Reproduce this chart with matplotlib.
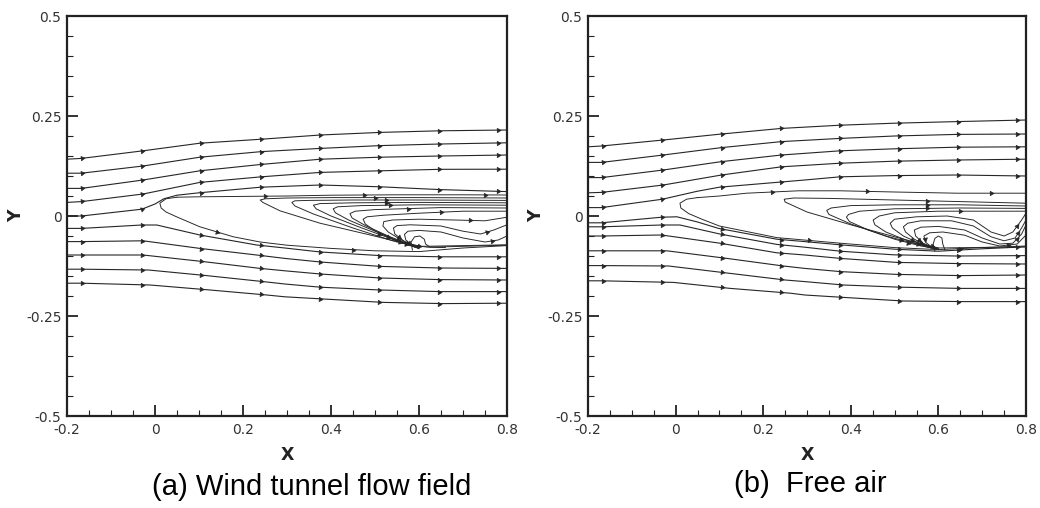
import math
import numpy as np
import matplotlib
matplotlib.use("Agg")
import matplotlib.pyplot as plt
from matplotlib.ticker import FixedLocator, MultipleLocator

plt.rcParams['font.family'] = ['Liberation Sans', 'DejaVu Sans']

# ---------------- axes / text ----------------
x_ticks = [-0.2, 0, 0.2, 0.4, 0.6, 0.8]
x_tick_labels = ['-0.2', '0', '0.2', '0.4', '0.6', '0.8']
y_ticks = [-0.5, -0.25, 0, 0.25, 0.5]
y_tick_labels = ['-0.5', '-0.25', '0', '0.25', '0.5']
captions = ['(a) Wind tunnel flow field', '(b)  Free air']

# ---------------- panel (a): wind tunnel ----------------
a_up_x = [-0.2, -0.167, -0.027, 0.102, 0.242, 0.376, 0.512, 0.648, 0.8]
a_up1_y = [0.142, 0.144, 0.163, 0.182, 0.192, 0.2025, 0.209, 0.213, 0.215]
a_up2_y = [0.107, 0.107, 0.125, 0.147, 0.161, 0.169, 0.176, 0.18, 0.183]
a_up3_y = [0.069, 0.069, 0.09, 0.113, 0.129, 0.142, 0.147, 0.15, 0.1525]
a_up4_y = [0.034, 0.036, 0.055, 0.084, 0.098, 0.109, 0.113, 0.1167, 0.117]
a_up5_x = [-0.2, -0.167, -0.03, 0.0, 0.02, 0.05, 0.1, 0.24, 0.376, 0.512, 0.648, 0.8]
a_up5_y = [0.0, 0.0, 0.017, 0.03, 0.043, 0.052, 0.058, 0.072, 0.0775, 0.073, 0.066, 0.061]

a_lo1_x = [-0.2, -0.167, -0.03, 0.004, 0.102, 0.231, 0.295, 0.376, 0.512, 0.648, 0.8]
a_lo1_y = [-0.031, -0.031, -0.0225, -0.0225, -0.0475, -0.0725, -0.08, -0.09, -0.099, -0.102, -0.102]
a_lo2_x = [-0.2, -0.167, -0.027, 0.102, 0.231, 0.295, 0.376, 0.512, 0.648, 0.8]
a_lo2_y = [-0.064, -0.064, -0.062, -0.081, -0.0975, -0.106, -0.115, -0.126, -0.13, -0.131]
a_lo3_x = [-0.2, -0.167, -0.027, 0.11, 0.239, 0.295, 0.376, 0.512, 0.648, 0.8]
a_lo3_y = [-0.0975, -0.0975, -0.0975, -0.114, -0.131, -0.137, -0.145, -0.155, -0.159, -0.16]
a_lo4_x = [-0.2, -0.167, -0.015, 0.117, 0.246, 0.295, 0.376, 0.512, 0.648, 0.8]
a_lo4_y = [-0.133, -0.133, -0.135, -0.149, -0.164, -0.17, -0.178, -0.185, -0.189, -0.189]
a_lo5_x = [-0.2, -0.167, -0.011, 0.125, 0.254, 0.295, 0.391, 0.52, 0.656, 0.8]
a_lo5_y = [-0.168, -0.168, -0.1725, -0.185, -0.1975, -0.202, -0.208, -0.216, -0.219, -0.218]

a_bub_x = [0.05, 0.025, 0.011, 0.014, 0.025, 0.049, 0.102, 0.178, 0.239, 0.3, 0.4, 0.5, 0.6, 0.7, 0.8]
a_bub_y = [0.047, 0.043, 0.032, 0.02, 0.01, -0.002, -0.027, -0.052, -0.065, -0.073, -0.081, -0.087, -0.089, -0.08, -0.074]
a_bubtop_x = [0.05, 0.1, 0.2, 0.3, 0.4, 0.55, 0.7, 0.8]
a_bubtop_y = [0.047, 0.048, 0.049, 0.05, 0.052, 0.053, 0.053, 0.0525]

a_c1_x = [0.8, 0.6, 0.4, 0.3, 0.25, 0.239, 0.245, 0.284, 0.375, 0.489, 0.58, 0.62, 0.8]
a_c1_y = [0.045, 0.046, 0.046, 0.045, 0.043, 0.04, 0.034, 0.013, -0.018, -0.0475, -0.072, -0.078, -0.073]
a_c2_x = [0.8, 0.6, 0.45, 0.35, 0.318, 0.311, 0.318, 0.36, 0.45, 0.54, 0.6, 0.8]
a_c2_y = [0.039, 0.04, 0.04, 0.039, 0.038, 0.034, 0.025, 0.005, -0.03, -0.062, -0.076, -0.072]
a_c3_x = [0.8, 0.6, 0.45, 0.375, 0.36, 0.366, 0.4, 0.47, 0.55, 0.6]
a_c3_y = [0.033, 0.034, 0.033, 0.031, 0.027, 0.018, 0.0, -0.03, -0.062, -0.075]
a_c4_x = [0.8, 0.6, 0.47, 0.415, 0.405, 0.41, 0.44, 0.5, 0.56, 0.6]
a_c4_y = [0.027, 0.028, 0.026, 0.023, 0.018, 0.008, -0.01, -0.038, -0.065, -0.077]
a_c5_x = [0.8, 0.65, 0.5, 0.455, 0.443, 0.448, 0.48, 0.53, 0.575, 0.6]
a_c5_y = [0.02, 0.021, 0.016, 0.012, 0.006, -0.005, -0.025, -0.05, -0.07, -0.078]
a_c6_x = [0.8, 0.7, 0.6, 0.52, 0.482, 0.473, 0.478, 0.5, 0.54, 0.575, 0.6]
a_c6_y = [0.012, 0.012, 0.007, 0.002, -0.002, -0.008, -0.02, -0.037, -0.058, -0.073, -0.079]
a_c7_x = [0.8, 0.75, 0.68, 0.6, 0.54, 0.52, 0.518, 0.53, 0.56, 0.585, 0.6]
a_c7_y = [-0.003, -0.012, -0.01, -0.008, -0.01, -0.014, -0.025, -0.04, -0.06, -0.075, -0.08]
a_c8_x = [0.8, 0.77, 0.74, 0.7, 0.65, 0.58, 0.55, 0.542, 0.545, 0.565, 0.59]
a_c8_y = [-0.022, -0.035, -0.045, -0.038, -0.025, -0.022, -0.024, -0.03, -0.045, -0.062, -0.078]
a_c9_x = [0.8, 0.78, 0.75, 0.7, 0.65, 0.6, 0.575, 0.567, 0.57, 0.585, 0.6]
a_c9_y = [-0.05, -0.06, -0.065, -0.055, -0.04, -0.036, -0.038, -0.046, -0.06, -0.075, -0.082]
a_hook_x = [0.585, 0.582, 0.59, 0.602, 0.612, 0.615, 0.625, 0.66]
a_hook_y = [-0.085, -0.065, -0.052, -0.05, -0.058, -0.07, -0.078, -0.079]

# ---------------- panel (b): free air ----------------
b_up_x = [-0.2, -0.169, -0.028, 0.105, 0.242, 0.376, 0.5, 0.642, 0.8]
b_up1_y = [0.173, 0.175, 0.19, 0.205, 0.219, 0.227, 0.232, 0.236, 0.24]
b_up2_y = [0.134, 0.134, 0.1525, 0.171, 0.186, 0.194, 0.2, 0.204, 0.205]
b_up3_y = [0.096, 0.096, 0.115, 0.136, 0.1525, 0.163, 0.168, 0.172, 0.173]
b_up4_y = [0.058, 0.059, 0.0775, 0.1025, 0.123, 0.132, 0.137, 0.14, 0.142]
b_up5_x = [-0.2, -0.169, -0.03, 0.01, 0.05, 0.1, 0.295, 0.376, 0.5, 0.642, 0.8]
b_up5_y = [0.021, 0.021, 0.042, 0.052, 0.062, 0.072, 0.09, 0.098, 0.101, 0.1025, 0.1]

b_lo0_x = [-0.2, -0.169, -0.032, 0.003, 0.05, 0.098, 0.231, 0.295, 0.376, 0.5, 0.6, 0.7, 0.8]
b_lo0_y = [-0.017, -0.017, -0.003, -0.002, -0.015, -0.031, -0.058, -0.064, -0.072, -0.083, -0.088, -0.082, -0.077]
b_lo1_x = [-0.2, -0.169, -0.032, 0.01, 0.101, 0.231, 0.295, 0.376, 0.497, 0.64, 0.8]
b_lo1_y = [-0.027, -0.027, -0.0225, -0.0225, -0.045, -0.071, -0.078, -0.088, -0.097, -0.1, -0.099]
b_lo2_x = [-0.2, -0.169, -0.032, 0.101, 0.231, 0.295, 0.376, 0.505, 0.65, 0.8]
b_lo2_y = [-0.05, -0.05, -0.0475, -0.068, -0.092, -0.0975, -0.106, -0.116, -0.119, -0.12]
b_lo3_x = [-0.2, -0.169, -0.02, 0.117, 0.246, 0.295, 0.376, 0.505, 0.65, 0.8]
b_lo3_y = [-0.087, -0.087, -0.087, -0.106, -0.125, -0.131, -0.139, -0.146, -0.149, -0.1475]
b_lo4_x = [-0.2, -0.169, -0.016, 0.121, 0.25, 0.295, 0.383, 0.513, 0.65, 0.8]
b_lo4_y = [-0.124, -0.124, -0.125, -0.143, -0.16, -0.164, -0.1725, -0.178, -0.181, -0.181]
b_lo5_x = [-0.2, -0.169, -0.005, 0.125, 0.262, 0.295, 0.391, 0.52, 0.66, 0.8]
b_lo5_y = [-0.162, -0.162, -0.166, -0.181, -0.193, -0.1975, -0.204, -0.2125, -0.214, -0.214]

b_bub_x = [0.05, 0.025, 0.01, 0.012, 0.03, 0.06, 0.1, 0.231, 0.376, 0.5, 0.6, 0.7, 0.8]
b_bub_y = [0.046, 0.042, 0.032, 0.02, 0.006, -0.008, -0.025, -0.054, -0.068, -0.079, -0.084, -0.079, -0.075]
b_bubtop_x = [0.05, 0.1, 0.162, 0.28, 0.376, 0.5, 0.642, 0.8]
b_bubtop_y = [0.046, 0.05, 0.057, 0.063, 0.063, 0.06, 0.057, 0.057]

b_c1_x = [0.8, 0.65, 0.5, 0.35, 0.27, 0.248, 0.25, 0.3, 0.4, 0.5, 0.57, 0.6, 0.8]
b_c1_y = [0.032, 0.036, 0.04, 0.044, 0.045, 0.042, 0.035, 0.01, -0.022, -0.052, -0.072, -0.08, -0.077]
b_c2_x = [0.8, 0.65, 0.5, 0.4, 0.355, 0.345, 0.35, 0.4, 0.48, 0.55, 0.6]
b_c2_y = [0.025, 0.028, 0.028, 0.026, 0.02, 0.014, 0.004, -0.02, -0.05, -0.07, -0.08]
b_c3_x = [0.8, 0.65, 0.5, 0.42, 0.395, 0.39, 0.397, 0.44, 0.5, 0.56, 0.6]
b_c3_y = [0.019, 0.02, 0.018, 0.012, 0.004, -0.003, -0.014, -0.035, -0.058, -0.075, -0.082]
b_c4_x = [0.8, 0.7, 0.6, 0.5, 0.465, 0.451, 0.455, 0.48, 0.53, 0.575, 0.6]
b_c4_y = [0.012, 0.012, 0.012, 0.008, 0.0, -0.01, -0.022, -0.04, -0.062, -0.078, -0.083]
b_c5_x = [0.8, 0.79, 0.77, 0.75, 0.72, 0.68, 0.62, 0.55, 0.5, 0.49, 0.495, 0.52, 0.56, 0.59]
b_c5_y = [0.007, -0.01, -0.04, -0.05, -0.04, -0.01, 0.0, -0.002, -0.008, -0.018, -0.03, -0.05, -0.07, -0.082]
b_c6_x = [0.8, 0.79, 0.775, 0.75, 0.72, 0.68, 0.63, 0.56, 0.53, 0.52, 0.525, 0.545, 0.575, 0.6]
b_c6_y = [-0.01, -0.03, -0.055, -0.062, -0.052, -0.025, -0.012, -0.012, -0.018, -0.027, -0.04, -0.058, -0.075, -0.084]
b_c7_x = [0.8, 0.79, 0.77, 0.74, 0.7, 0.66, 0.6, 0.56, 0.545, 0.548, 0.565, 0.59]
b_c7_y = [-0.0225, -0.045, -0.068, -0.07, -0.055, -0.035, -0.026, -0.028, -0.035, -0.05, -0.068, -0.08]
b_c8_x = [0.8, 0.78, 0.74, 0.7, 0.66, 0.61, 0.58, 0.567, 0.57, 0.585]
b_c8_y = [-0.0475, -0.07, -0.075, -0.065, -0.048, -0.04, -0.042, -0.05, -0.065, -0.078]
b_hook_x = [0.592, 0.588, 0.592, 0.6, 0.608, 0.61, 0.615]
b_hook_y = [-0.088, -0.07, -0.056, -0.05, -0.055, -0.07, -0.085]

# ---------------- style ----------------
LINE_COLOR = '#262626'
LW = 0.8
ARROW_X = [-0.165, -0.03, 0.105, 0.24, 0.375, 0.51, 0.645, 0.78]

W, H = 1040, 508
fig = plt.figure(figsize=(W / 100, H / 100), dpi=100)
ax_a = fig.add_axes([67 / W, 1 - 416 / H, 440 / W, 400 / H])
ax_b = fig.add_axes([588 / W, 1 - 416 / H, 438 / W, 400 / H])


def arrow_at(ax, x0, y0, x1, y1, xm, ym):
    p = ax.transData.transform([(x0, y0), (x1, y1)])
    ang = math.degrees(math.atan2(p[1][1] - p[0][1], p[1][0] - p[0][0]))
    ax.plot([xm], [ym], linestyle='none', marker=(3, 0, ang - 90),
            markersize=3.8, color=LINE_COLOR, markeredgewidth=0.4, zorder=3)


def outer_line(ax, xs, ys):
    ax.plot(xs, ys, color=LINE_COLOR, lw=LW, zorder=2)
    for xa in ARROW_X:
        if xs[0] < xa < xs[-1]:
            ya = float(np.interp(xa, xs, ys))
            yb = float(np.interp(xa + 0.01, xs, ys))
            arrow_at(ax, xa, ya, xa + 0.01, yb, xa, ya)


def wake_line(ax, xs, ys, marks=(1,)):
    ax.plot(xs, ys, color=LINE_COLOR, lw=LW * 0.85, zorder=2)
    n = len(xs)
    for i in marks:
        if 0 <= i < n - 1:
            xm = 0.5 * (xs[i] + xs[i + 1])
            ym = 0.5 * (ys[i] + ys[i + 1])
            if xs[i + 1] >= xs[i]:
                arrow_at(ax, xs[i], ys[i], xs[i + 1], ys[i + 1], xm, ym)
            else:
                arrow_at(ax, xs[i + 1], ys[i + 1], xs[i], ys[i], xm, ym)


def style_axes(ax, ylabel_x):
    ax.set_xlim(-0.2, 0.8)
    ax.set_ylim(-0.5, 0.5)
    ax.xaxis.set_major_locator(FixedLocator(x_ticks))
    ax.set_xticklabels(x_tick_labels)
    ax.yaxis.set_major_locator(FixedLocator(y_ticks))
    ax.set_yticklabels(y_tick_labels)
    ax.xaxis.set_minor_locator(MultipleLocator(0.05))
    ax.yaxis.set_minor_locator(MultipleLocator(0.05))
    ax.tick_params(which='both', direction='in', top=False, right=False,
                   color='#222222')
    ax.tick_params(which='major', length=8, width=1.3)
    ax.tick_params(which='minor', length=4, width=0.8)
    ax.tick_params(axis='x', which='major', pad=5)
    ax.tick_params(axis='y', which='major', pad=4)
    for lab in ax.get_xticklabels() + ax.get_yticklabels():
        lab.set_fontfamily('DejaVu Sans')
        lab.set_fontsize(10)
        lab.set_color('#333333')
    for sp in ax.spines.values():
        sp.set_linewidth(1.6)
        sp.set_color('#222222')
    ax.set_xlabel('X', fontfamily='DejaVu Sans', fontweight='bold', fontsize=12.5,
                  color='#222222')
    ax.set_ylabel('Y', fontfamily='DejaVu Sans', fontweight='bold', fontsize=12.5,
                  color='#222222')
    ax.xaxis.set_label_coords(0.5, -0.075)
    ax.yaxis.set_label_coords(ylabel_x, 0.5)


style_axes(ax_a, -0.094)
style_axes(ax_b, -0.097)

# panel (a)
for ys in (a_up1_y, a_up2_y, a_up3_y, a_up4_y):
    outer_line(ax_a, a_up_x, ys)
outer_line(ax_a, a_up5_x, a_up5_y)
for xs, ys in ((a_lo1_x, a_lo1_y), (a_lo2_x, a_lo2_y), (a_lo3_x, a_lo3_y),
               (a_lo4_x, a_lo4_y), (a_lo5_x, a_lo5_y)):
    outer_line(ax_a, xs, ys)
wake_line(ax_a, a_bub_x, a_bub_y, marks=(6, 10))
wake_line(ax_a, a_bubtop_x, a_bubtop_y, marks=(2, 4, 6))
for xs, ys in ((a_c1_x, a_c1_y), (a_c2_x, a_c2_y), (a_c3_x, a_c3_y),
               (a_c4_x, a_c4_y), (a_c5_x, a_c5_y), (a_c6_x, a_c6_y),
               (a_c7_x, a_c7_y), (a_c8_x, a_c8_y), (a_c9_x, a_c9_y)):
    wake_line(ax_a, xs, ys, marks=(1, len(xs) - 3))
wake_line(ax_a, a_hook_x, a_hook_y, marks=())

# panel (b)
for ys in (b_up1_y, b_up2_y, b_up3_y, b_up4_y):
    outer_line(ax_b, b_up_x, ys)
outer_line(ax_b, b_up5_x, b_up5_y)
outer_line(ax_b, b_lo0_x, b_lo0_y)
for xs, ys in ((b_lo1_x, b_lo1_y), (b_lo2_x, b_lo2_y), (b_lo3_x, b_lo3_y),
               (b_lo4_x, b_lo4_y), (b_lo5_x, b_lo5_y)):
    outer_line(ax_b, xs, ys)
wake_line(ax_b, b_bub_x, b_bub_y, marks=(7, 10))
wake_line(ax_b, b_bubtop_x, b_bubtop_y, marks=(2, 4, 6))
for xs, ys in ((b_c1_x, b_c1_y), (b_c2_x, b_c2_y), (b_c3_x, b_c3_y),
               (b_c4_x, b_c4_y), (b_c5_x, b_c5_y), (b_c6_x, b_c6_y),
               (b_c7_x, b_c7_y), (b_c8_x, b_c8_y)):
    wake_line(ax_b, xs, ys, marks=(1, len(xs) - 3))
wake_line(ax_b, b_hook_x, b_hook_y, marks=())

fig.text(312 / W, 1 - 487 / H, captions[0], ha='center', va='center',
         fontsize=21, color='black')
fig.text(810 / W, 1 - 484 / H, captions[1], ha='center', va='center',
         fontsize=21, color='black')

fig.savefig('out.png', dpi=100, facecolor='white')
